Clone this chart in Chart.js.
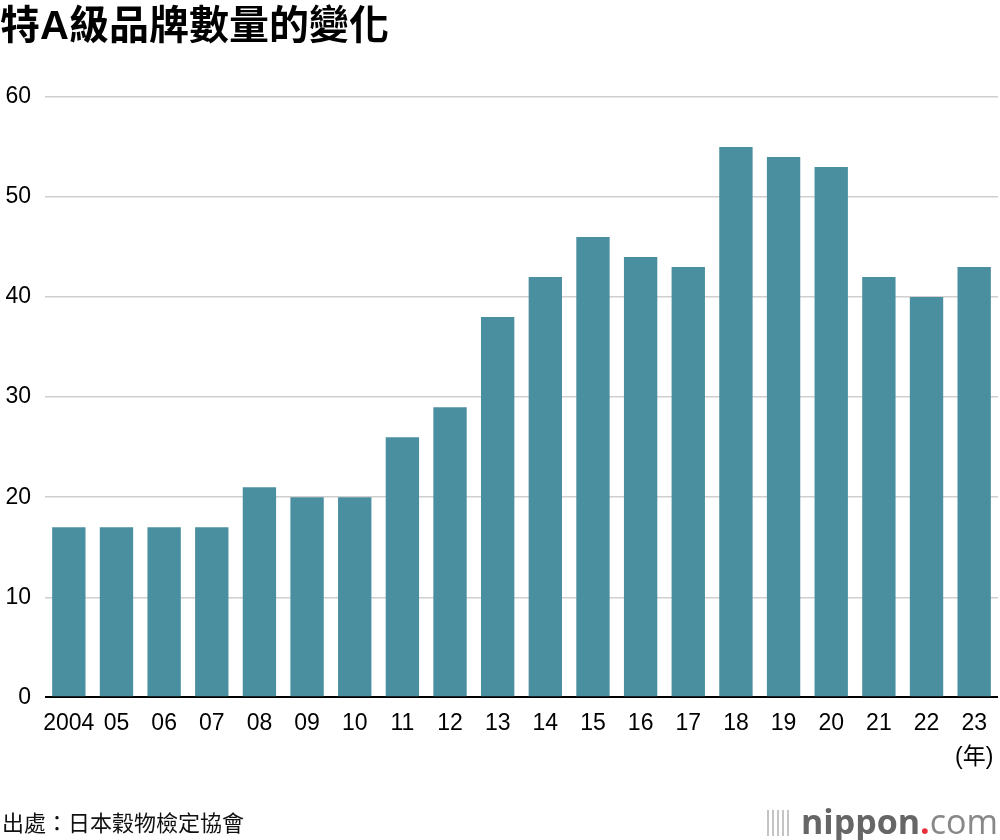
<!DOCTYPE html>
<html>
<head>
<meta charset="utf-8">
<script src="https://cdn.jsdelivr.net/npm/chart.js@4"></script>
<style>
  body { margin: 0; background: #fff; }
  #wrap { position: relative; width: 1000px; height: 840px; }
  #source { position: absolute; left: 2px; top: 805px; font: 22px "Liberation Sans", "Noto Sans CJK TC", sans-serif; color: #111; }
  #logo { position: absolute; right: 2px; top: 798px; font: 34px "Open Sans", "Noto Sans", sans-serif; color: #888; }
  #logo b { font-weight: 700; color: #666; }
  #logo .dot { color: #e8303a; font-weight: 700; }
  #logo .mark { display: inline-block; width: 24px; height: 26px; margin-right: 10px; vertical-align: -2px;
    background: repeating-linear-gradient(90deg, #c4c4c4 0 2px, transparent 2px 5px); }
</style>
</head>
<body>
<div id="wrap">
  <canvas id="chart"></canvas>
  <div id="source">出處：日本穀物檢定協會</div>
  <div id="logo"><span class="mark"></span><b>nippon</b><span class="dot">.</span>com</div>
</div>
<script>
// Year labels (last one carries the unit line)
const years = ['2004', '05', '06', '07', '08', '09', '10', '11', '12', '13',
  '14', '15', '16', '17', '18', '19', '20', '21', '22', ['23', '(年)']];
// Number of Special-A brands per year
const brandCounts = [17, 17, 17, 17, 21, 20, 20, 26, 29, 38,
  42, 46, 44, 43, 55, 54, 53, 42, 40, 43];
const yTicks = { min: 0, max: 60, step: 10 };

const fontFamily = '"Liberation Sans", "Noto Sans CJK TC", sans-serif';

const chart = new Chart(document.getElementById('chart'), {
  type: 'bar',
  data: {
    labels: years,
    datasets: [{
      data: brandCounts,
      backgroundColor: '#4a8f9f',
      barPercentage: 0.7,
      categoryPercentage: 1.0
    }]
  },
  options: {
    responsive: true,
    maintainAspectRatio: false,
    animation: false,
    layout: { padding: { left: 0, right: 2, top: 0, bottom: 64 } },
    plugins: {
      legend: { display: false },
      tooltip: { enabled: false },
      title: {
        display: true,
        text: '特A級品牌數量的變化',
        align: 'start',
        color: '#000',
        font: { family: fontFamily, size: 40, weight: 'bold' },
        padding: { top: 4, bottom: 45 }
      }
    },
    scales: {
      x: {
        grid: { display: false },
        border: { display: false },
        afterFit: scale => { scale.paddingLeft = 0; scale.paddingRight = 0; },
        ticks: {
          color: '#000',
          font: { family: fontFamily, size: 23, lineHeight: 1.45 },
          padding: 2,
          maxRotation: 0,
          autoSkip: false
        }
      },
      y: {
        min: yTicks.min,
        max: yTicks.max,
        border: { display: false },
        afterFit: scale => { scale.width = 45; },
        grid: {
          drawTicks: false,
          color: ctx => ctx.tick && ctx.tick.value === 0 ? '#000' : '#cfcfcf',
          lineWidth: ctx => ctx.tick && ctx.tick.value === 0 ? 2 : 1.5
        },
        ticks: {
          stepSize: yTicks.step,
          color: '#000',
          font: { family: fontFamily, size: 23 },
          padding: 14
        }
      }
    }
  }
});
</script>
</body>
</html>
